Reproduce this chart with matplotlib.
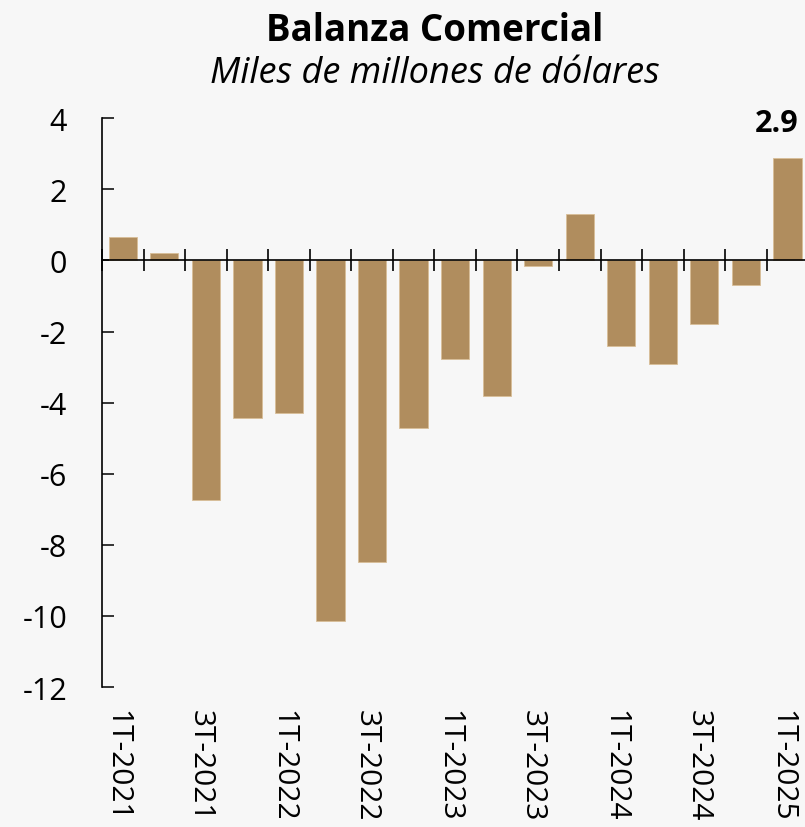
import matplotlib
matplotlib.use("Agg")
import matplotlib.pyplot as plt
import matplotlib.transforms as mtransforms
import numpy as np

plt.rcParams["font.family"] = ["Open Sans", "DejaVu Sans"]

periods = ["1T-2021", "2T-2021", "3T-2021", "4T-2021",
           "1T-2022", "2T-2022", "3T-2022", "4T-2022",
           "1T-2023", "2T-2023", "3T-2023", "4T-2023",
           "1T-2024", "2T-2024", "3T-2024", "4T-2024",
           "1T-2025"]
balance = [0.65, 0.22, -6.75, -4.44, -4.3, -10.15, -8.49, -4.7,
           -2.76, -3.8, -0.17, 1.32, -2.42, -2.92, -1.8, -0.7, 2.87]
last_label = "2.9"
yticks = [4, 2, 0, -2, -4, -6, -8, -10, -12]

BAR = "#b08d5e"
BG = "#f7f7f7"

fig = plt.figure(figsize=(8.05, 8.28), dpi=100, facecolor=BG)
ax = fig.add_axes([0.1267, 0.169, 0.8773, 0.687])
ax.set_facecolor(BG)

x = np.arange(len(periods))
ax.bar(x, balance, width=0.68, color=BAR, edgecolor="#d8be98", linewidth=0.6, zorder=2)

ax.set_ylim(-12, 4)
ax.set_xlim(-0.5, len(periods) - 0.5)
ax.set_yticks(yticks)
ax.set_yticklabels([str(v) for v in yticks], fontsize=22)
ax.tick_params(axis="y", direction="in", length=8.6, width=1.1, pad=25)

for s in ("top", "right"):
    ax.spines[s].set_visible(False)
ax.spines["left"].set_linewidth(1.2)
ax.spines["bottom"].set_position(("data", 0))
ax.spines["bottom"].set_linewidth(1.2)
ax.spines["bottom"].set_zorder(3)

# zero line with crossing ticks between bars
ax.set_xticks([])
ax.set_xticks(np.arange(-0.5, len(periods)), minor=True)
ax.tick_params(axis="x", which="minor", direction="inout", length=16.5, width=1.2)

# category labels along the bottom
sec = ax.secondary_xaxis(0.0)
sec.set_xticks(x[::2])
sec.set_xticklabels(periods[::2], rotation=-90, fontsize=21.5, va="top")
sec.tick_params(length=0, pad=16)
sec.spines["bottom"].set_visible(False)
shift = mtransforms.ScaledTranslation(-6 / 100, 0, fig.dpi_scale_trans)
for lbl in sec.get_xticklabels():
    lbl.set_transform(lbl.get_transform() + shift)

ax.annotate(last_label, (x[-1], balance[-1]), xytext=(-8, 15), textcoords="offset points",
            ha="center", va="bottom", fontsize=22, fontweight="bold")

fig.text(0.54, 0.963, "Balanza Comercial", ha="center", va="center",
         fontsize=26.5, fontweight="bold")
fig.text(0.54, 0.911, "Miles de millones de dólares", ha="center", va="center",
         fontsize=26, fontstyle="italic")

fig.savefig("out.png", dpi=100, facecolor=BG)
